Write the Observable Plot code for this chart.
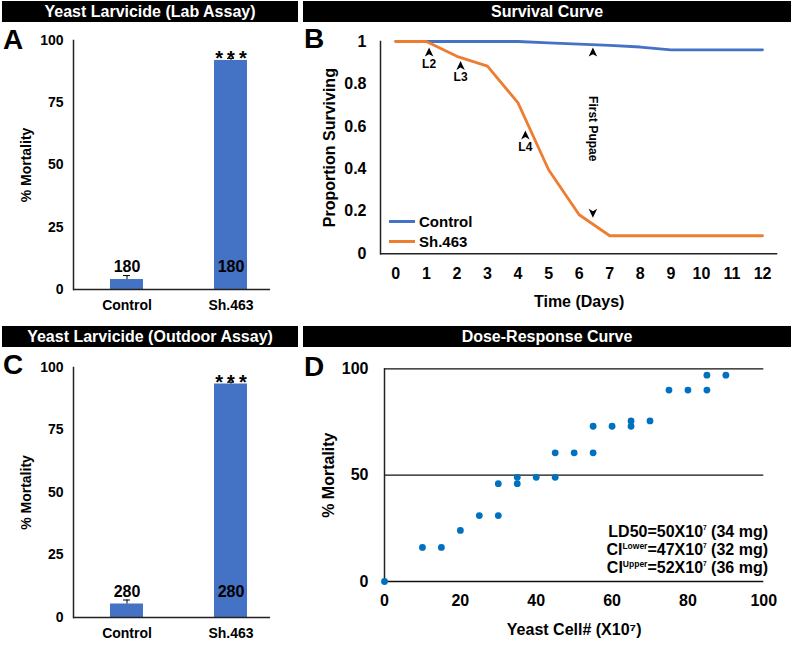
<!DOCTYPE html>
<html><head><meta charset="utf-8">
<script src="https://cdn.jsdelivr.net/npm/d3@7"></script>
<script src="https://cdn.jsdelivr.net/npm/@observablehq/plot@0.6"></script>
<style>
body{margin:0;background:#fff;}
#fig{position:relative;width:800px;height:645px;background:#fff;font-family:"Liberation Sans",Arial,sans-serif;font-weight:bold;color:#000;overflow:hidden;}
.tbar{position:absolute;background:#000;color:#fff;font-size:16px;line-height:21px;height:21px;text-align:center;white-space:nowrap;}
.letter{position:absolute;font-size:28px;line-height:28px;}
.panel{position:absolute;}
.panel svg{display:block;overflow:visible;}
.legend{position:absolute;font-size:15px;line-height:20px;}
.legend div{display:flex;align-items:center;height:20px;}
.legend span.sw{display:inline-block;width:26px;height:3px;margin-right:4px;}
.ld50{position:absolute;right:32px;top:523px;font-size:16px;line-height:17.8px;text-align:right;white-space:nowrap;}
.ld50 sup{font-size:8.5px;line-height:0;vertical-align:6px;}
.ld50 sup.s7{font-size:6.5px;vertical-align:7px;}
</style></head><body><div id="fig"></div><script>
// ---------- data ----------
const barCategories = ["Control", "Sh.463"];
const labMortality = [4.0, 92.0];
const labError = [1.6, 0.8];
const labCounts = [180, 180];
const outdoorMortality = [5.4, 93.4];
const outdoorError = [1.6, 0.7];
const outdoorCounts = [280, 280];
const significance = ["", "*\u2009*\u2009*"];
const mortalityTicks = [0, 25, 50, 75, 100];

const days = [0, 1, 2, 3, 4, 5, 6, 7, 8, 9, 10, 11, 12];
const controlSurvival = [1, 1, 1, 1, 1, 0.994, 0.988, 0.982, 0.974, 0.961, 0.961, 0.961, 0.961];
const sh463Survival = [1, 1, 0.93, 0.884, 0.711, 0.396, 0.184, 0.085, 0.085, 0.085, 0.085, 0.085, 0.085];
const survivalTicks = [0, 0.2, 0.4, 0.6, 0.8, 1];
const stageLabels = ["L2", "L3", "L4"];
const stageDays = [1.09, 2.12, 4.24];
const stageSurvival = [0.95, 0.887, 0.56];
const pupaeLabel = "First Pupae";
const pupaeDay = 6.45;
const pupaeUpSurvival = 0.95;
const pupaeTextSurvival = 0.589;
const pupaeDownSurvival = 0.191;

const doseCells = [0, 10, 15, 20, 25, 30, 30, 35, 35, 40, 45, 45, 50, 55, 55, 60, 65, 65, 70, 75, 80, 85, 85, 90];
const doseMortality = [0, 16, 16, 24, 31, 31, 46, 46, 49, 49, 49, 60.5, 60.5, 60.5, 73, 73, 73, 75.5, 75.5, 90, 90, 90, 97, 97];
const doseXTicks = [0, 20, 40, 60, 80, 100];
const doseYTicks = [0, 50, 100];

// ---------- helpers ----------
const fig = document.getElementById("fig");
function addDiv(cls, style, html) {
  const d = document.createElement("div");
  d.className = cls;
  Object.assign(d.style, style);
  d.innerHTML = html;
  fig.appendChild(d);
  return d;
}
const FONT = '"Liberation Sans", Arial, sans-serif';
const BLUE = "#4472C4", ORANGE = "#ED7D31";

const arrowUp = {draw(ctx, size) { const s = Math.sqrt(size / Math.PI);
  ctx.moveTo(0, -s); ctx.lineTo(s * 0.95, s); ctx.lineTo(0, s * 0.45); ctx.lineTo(-s * 0.95, s); ctx.closePath(); }};
const arrowDown = {draw(ctx, size) { const s = Math.sqrt(size / Math.PI);
  ctx.moveTo(0, s); ctx.lineTo(s * 0.95, -s); ctx.lineTo(0, -s * 0.45); ctx.lineTo(-s * 0.95, -s); ctx.closePath(); }};

// title bars and panel letters
addDiv("tbar", {left: "2px", top: "1px", width: "296px"}, "Yeast Larvicide (Lab Assay)");
addDiv("tbar", {left: "303px", top: "1px", width: "488px"}, "Survival Curve");
addDiv("tbar", {left: "2px", top: "326px", width: "296px"}, "Yeast Larvicide (Outdoor Assay)");
addDiv("tbar", {left: "303px", top: "326px", width: "488px"}, "Dose-Response Curve");
addDiv("letter", {left: "3px", top: "26px"}, "A");
addDiv("letter", {left: "304px", top: "24.5px"}, "B");
addDiv("letter", {left: "3px", top: "351px"}, "C");
addDiv("letter", {left: "304px", top: "353px"}, "D");

// ---------- bar panels ----------
function barPanel(values, errors, counts, opts) {
  const data = barCategories.map((c, i) => ({cat: c, v: values[i], e: errors[i], n: counts[i], sig: significance[i]}));
  return Plot.plot({
    width: 270, height: opts.height,
    marginLeft: 73, marginRight: 0, marginTop: opts.marginTop, marginBottom: opts.marginBottom,
    style: {fontFamily: FONT, fontWeight: "bold", fontSize: "14px", color: "#000", background: "transparent", overflow: "visible"},
    x: {domain: barCategories, range: [37.5, 319.5], padding: 0.686},
    y: {domain: [0, 100]},
    marks: [
      Plot.barY(data, {x: "cat", y: "v", fill: BLUE}),
      Plot.ruleX(data, {x: "cat", y1: "v", y2: d => d.v + d.e, stroke: "#000", strokeWidth: 1}),
      Plot.tickY(data, {x: "cat", y: d => d.v + d.e, stroke: "#000", strokeWidth: 1, insetLeft: 13, insetRight: 13}),
      Plot.text(data, {x: "cat", y: () => opts.countY, text: "n", fontSize: 16}),
      Plot.text(data, {x: "cat", y: d => d.v + d.e, text: "sig", fontSize: 20, fontWeight: 900}),
      Plot.ruleY([0], {stroke: "#222", strokeWidth: 1.5}),
      Plot.frame({anchor: "left", stroke: "#222", strokeWidth: 1.5}),
      Plot.axisX({tickSize: 0, tickPadding: 11, label: null}),
      Plot.axisY({ticks: mortalityTicks, tickSize: 0, tickPadding: 10, label: "% Mortality",
        labelAnchor: "center", labelArrow: "none", labelOffset: 52})
    ]
  });
}
const pA = addDiv("panel", {left: "0px", top: "22px"}, "");
pA.appendChild(barPanel(labMortality, labError, labCounts, {height: 300, marginTop: 18, marginBottom: 33, countY: 9}));
const pC = addDiv("panel", {left: "0px", top: "346px"}, "");
pC.appendChild(barPanel(outdoorMortality, outdoorError, outdoorCounts, {height: 299, marginTop: 21, marginBottom: 28, countY: 10.4}));

// ---------- survival curve ----------
const survival = [
  ...days.map((d, i) => ({day: d, p: controlSurvival[i], group: "Control"})),
  ...days.map((d, i) => ({day: d, p: sh463Survival[i], group: "Sh.463"}))
];
const stages = stageLabels.map((l, i) => ({label: l, day: stageDays[i], p: stageSurvival[i]}));
const pupae = [{day: pupaeDay, up: pupaeUpSurvival, mid: pupaeTextSurvival, down: pupaeDownSurvival, label: pupaeLabel}];
const pB = addDiv("panel", {left: "270px", top: "22px"}, "");
pB.appendChild(Plot.plot({
  width: 530, height: 300,
  marginLeft: 110, marginRight: 22.7, marginTop: 19, marginBottom: 68.7,
  style: {fontFamily: FONT, fontWeight: "bold", fontSize: "16px", color: "#000", background: "transparent", overflow: "visible"},
  x: {domain: [-0.5, 12.5]},
  y: {domain: [0, 1]},
  marks: [
    Plot.ruleY([0], {stroke: "#222", strokeWidth: 1.5}),
    Plot.frame({anchor: "left", stroke: "#222", strokeWidth: 1.5}),
    Plot.line(survival.filter(d => d.group === "Control"), {x: "day", y: "p", stroke: BLUE, strokeWidth: 2.8}),
    Plot.line(survival.filter(d => d.group === "Sh.463"), {x: "day", y: "p", stroke: ORANGE, strokeWidth: 2.8}),
    Plot.dot(stages, {x: "day", y: "p", symbol: arrowUp, r: 4.5, fill: "#000", stroke: "none"}),
    Plot.text(stages, {x: "day", y: "p", text: "label", dy: 12, fontSize: 12}),
    Plot.dot(pupae, {x: "day", y: "up", symbol: arrowUp, r: 4.5, fill: "#000", stroke: "none"}),
    Plot.dot(pupae, {x: "day", y: "down", symbol: arrowDown, r: 4.5, fill: "#000", stroke: "none"}),
    Plot.text(pupae, {x: "day", y: "mid", text: "label", rotate: 90, fontSize: 12}),
    Plot.axisX({ticks: days, tickSize: 0, tickPadding: 14, tickFormat: d3.format("d"), label: "Time (Days)",
      labelAnchor: "center", labelArrow: "none", labelOffset: 53}),
    Plot.axisY({ticks: survivalTicks, tickSize: 0, tickPadding: 14, tickFormat: d3.format("~g"), label: "Proportion Surviving",
      labelAnchor: "center", labelArrow: "none", labelOffset: 57})
  ]
}));
const leg = addDiv("legend", {left: "389px", top: "211.5px"},
  `<div><span class="sw" style="background:${BLUE}"></span>Control</div>` +
  `<div><span class="sw" style="background:${ORANGE}"></span>Sh.463</div>`);

// ---------- dose response ----------
const dose = doseCells.map((c, i) => ({cells: c, mort: doseMortality[i]}));
const pD = addDiv("panel", {left: "270px", top: "346px"}, "");
pD.appendChild(Plot.plot({
  width: 530, height: 299,
  marginLeft: 114, marginRight: 36.7, marginTop: 22.3, marginBottom: 64,
  style: {fontFamily: FONT, fontWeight: "bold", fontSize: "16px", color: "#000", background: "transparent", overflow: "visible"},
  x: {domain: [0, 100]},
  y: {domain: [0, 100]},
  marks: [
    Plot.ruleY(doseYTicks, {stroke: "#111", strokeWidth: 1.3}),
    Plot.frame({anchor: "left", stroke: "#222", strokeWidth: 1.5}),
    Plot.dot(dose, {x: "cells", y: "mort", r: 3.4, fill: "#0070C0", stroke: "none"}),
    Plot.axisX({ticks: doseXTicks, tickSize: 0, tickPadding: 13, label: "Yeast Cell# (X10\u2077)",
      labelAnchor: "center", labelArrow: "none", labelOffset: 53}),
    Plot.axisY({ticks: doseYTicks, tickSize: 0, tickPadding: 16, label: "% Mortality",
      labelAnchor: "center", labelArrow: "none", labelOffset: 62})
  ]
}));
addDiv("ld50", {}, 'LD50=50X10<sup class="s7">7</sup> (34 mg)<br>CI<sup>Lower</sup>=47X10<sup class="s7">7</sup> (32 mg)<br>CI<sup>Upper</sup>=52X10<sup class="s7">7</sup> (36 mg)');
</script></body></html>
